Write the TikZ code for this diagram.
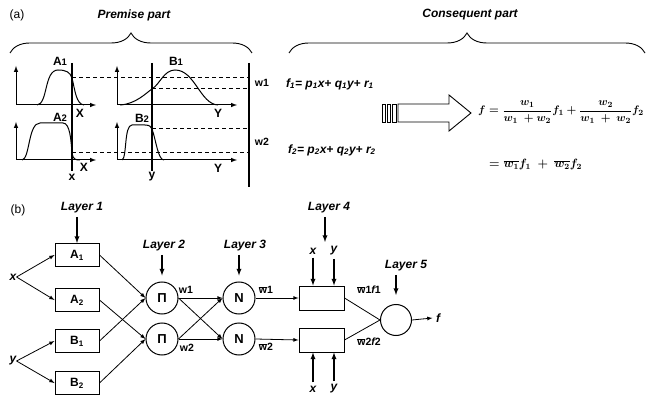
\documentclass[tikz,border=0pt]{standalone}
\usepackage{amsmath}
\usepackage{fontspec}
\setmainfont{Liberation Sans}
\usetikzlibrary{decorations.pathreplacing}

\newcommand{\wb}{$\overline{\mbox{w}}$}

\begin{document}
\begin{tikzpicture}[x=1pt,y=-1pt,>=latex,
	title/.style={font=\bfseries\itshape\fontsize{12}{14}\selectfont},
	mf/.style={font=\bfseries\fontsize{12}{14}\selectfont,inner sep=1pt},
	lbox/.style={draw,line width=1pt,minimum width=44pt,minimum height=23pt,
		inner sep=0pt,font=\bfseries\fontsize{12}{14}\selectfont},
	pnode/.style={draw,circle,line width=1pt,minimum size=32pt,inner sep=0pt,
		font=\bfseries\fontsize{13}{15}\selectfont},
	elab/.style={font=\bfseries\fontsize{10.5}{12}\selectfont,inner sep=1pt},
	eq/.style={anchor=west,inner sep=0pt,font=\fontsize{11}{13}\selectfont\boldmath},
	feqs/.style={anchor=west,inner sep=1pt,font=\bfseries\itshape\fontsize{12}{14}\selectfont},
	conn/.style={->,line width=.8pt},
	down/.style={->,line width=1.3pt}
	]
	\useasboundingbox (0,0) rectangle (648,398);
	
	% (a) premise and consequent part
	\node[font=\fontsize{12}{14}\selectfont] (a) at (17,15) {(a)};
	\node[title] (prem) at (134,15) {Premise part};
	\node[title] (cons) at (470,15) {Consequent part};
	\draw[line width=.9pt,decorate,decoration={brace,amplitude=20pt}]
	(10,53) -- (252,53);
	\draw[line width=.9pt,decorate,decoration={brace,amplitude=20pt}]
	(289,53) -- (645,53);
	
	\draw[line width=1pt,->] (16,105) -- (16,66);
	\draw[line width=1pt,->] (16,105) -- (96,105);
	\draw[line width=1pt,->] (16,160) -- (16,122);
	\draw[line width=1pt,->] (16,160) -- (96,160);
	\draw[line width=1pt,->] (117,105) -- (117,66);
	\draw[line width=1pt,->] (117,105) -- (237,105);
	\draw[line width=1pt,->] (117,160) -- (117,122);
	\draw[line width=1pt,->] (117,160) -- (237,160);
	
	\draw[line width=1pt] (37,105) .. controls (48,104) and (44,70) .. (58,70)
	.. controls (66,70) and (70,72) .. (72,78)
	.. controls (75,90) and (76,104) .. (84,105);
	\draw[line width=1pt] (22,160) .. controls (30,159) and (28,123) .. (40,123)
	-- (63,123) .. controls (70,123) and (71,140) .. (72,153)
	.. controls (73,159) and (75,160) .. (80,160);
	\draw[line width=1pt] (120,105) .. controls (136,104) and (146,93) .. (152,89)
	.. controls (160,84) and (164,70) .. (175,70)
	.. controls (195,70) and (200,104) .. (218,105);
	\draw[line width=1pt] (122,160) .. controls (127,158) and (124,125) .. (132,125)
	-- (145,125) .. controls (150,125) and (151,127) .. (152,129)
	.. controls (156,140) and (158,160) .. (164,160);
	
	\draw[line width=1.1pt] (72,63) -- (72,171);
	\draw[line width=1.1pt] (152,63) -- (152,171);
	\draw[line width=1.4pt] (249,63) -- (249,187);
	\draw[line width=1pt,dash pattern=on 4pt off 3pt] (72,78) -- (249,78);
	\draw[line width=1pt,dash pattern=on 4pt off 3pt] (152,89) -- (249,89);
	\draw[line width=1pt,dash pattern=on 4pt off 3pt] (152,129) -- (249,129);
	\draw[line width=1pt,dash pattern=on 4pt off 3pt] (72,153) -- (249,153);
	
	\node[mf] (mA1) at (60,61) {A{\fontsize{9.5}{10}\selectfont 1}};
	\node[mf] (mA2) at (60,117) {A{\fontsize{9.5}{10}\selectfont 2}};
	\node[mf] (mB1) at (176,61) {B{\fontsize{9.5}{10}\selectfont 1}};
	\node[mf] (mB2) at (142,118) {B{\fontsize{9.5}{10}\selectfont 2}};
	\node[mf] (X1) at (80,113) {X};
	\node[mf] (X2) at (84,167) {X};
	\node[mf] (Y1) at (218,113) {Y};
	\node[mf] (Y2) at (218,168) {Y};
	\node[mf] (xv) at (72,177) {x};
	\node[mf] (yv) at (152,177) {y};
	\node[elab] (w1) at (262,83) {w1};
	\node[elab] (w2) at (262,142) {w2};
	
	\node[feqs] (f1) at (285,84)
	{f\textsubscript{1}= p\textsubscript{1}x+ q\textsubscript{1}y+ r\textsubscript{1}};
	\node[feqs] (f2) at (287,150)
	{f\textsubscript{2}= p\textsubscript{2}x+ q\textsubscript{2}y+ r\textsubscript{2}};
	
	\draw[line width=.9pt] (382,104) rectangle (385,122);
	\draw[line width=.9pt] (387,104) rectangle (390,122);
	\draw[line width=.9pt] (392,104) rectangle (396,122);
	\draw[line width=.9pt] (398,104) -- (449,104) -- (449,95) -- (471,113)
	-- (449,131) -- (449,122) -- (398,122) -- cycle;
	
	\node[eq] (feq) at (478,112) {$\displaystyle f=\frac{w_1}{w_1\ +w_2}f_1+\frac{w_2}{w_1\ +\ w_2}f_2$};
	\node[eq,font=\fontsize{12}{14}\selectfont\boldmath] (fbar) at (489,165) {$=\overline{w_1}f_1\ +\ \overline{w_2}f_2$};
	
	% (b) network
	\node[font=\fontsize{12}{14}\selectfont] (b) at (18,210) {(b)};
	\node[lbox] (A1) at (77,255) {A\textsubscript{1}};
	\node[lbox] (A2) at (77,300) {A\textsubscript{2}};
	\node[lbox] (B1) at (77,341) {B\textsubscript{1}};
	\node[lbox] (B2) at (77,383) {B\textsubscript{2}};
	\node[title,inner sep=0pt] (xin) at (13,277) {x};
	\node[title,inner sep=0pt] (yin) at (13,361) {y};
	
	\node[pnode] (P1) at (162,298) {Π};
	\node[pnode] (P2) at (162,339) {Π};
	\node[pnode] (N1) at (239,298) {N};
	\node[pnode] (N2) at (239,339) {N};
	\node[lbox,minimum width=45pt,minimum height=24pt] (C1) at (321.5,298) {};
	\node[lbox,minimum width=45pt,minimum height=24pt] (C2) at (321.5,340) {};
	\node[pnode,minimum size=31pt] (S) at (396,320) {};
	\node[title] (fout) at (438,318) {f};
	
	\node[title] (L1) at (82,208) {Layer 1};
	\node[title] (L2) at (164,246) {Layer 2};
	\node[title] (L3) at (245,246) {Layer 3};
	\node[title] (L4) at (329,208) {Layer 4};
	\node[title] (L5) at (406,266) {Layer 5};
	\coordinate (l4end) at (325,242);
	
	\node[title] (x4t) at (313,251) {x};
	\node[title] (y4t) at (334,251) {y};
	\node[title] (x4b) at (313,389) {x};
	\node[title] (y4b) at (334,389) {y};
	
	\node[elab] (lw1) at (186,290) {w1};
	\node[elab] (lw2) at (187,348) {w2};
	\node[elab] (lwb1) at (266,290) {\wb1};
	\node[elab] (lwb2) at (266,347) {\wb2};
	\node[elab] (lwf1) at (369,290) {\wb1{\itshape f}1};
	\node[elab] (lwf2) at (369,342) {\wb2{\itshape f}2};
	
	\draw[conn] (xin.east) -- (A1.west);
	\draw[conn] (xin.east) -- (A2.west);
	\draw[conn] (yin.east) -- (B1.west);
	\draw[conn] (yin.east) -- (B2.west);
	\draw[conn] (A1.east) -- (P1.west);
	\draw[conn] (B1.east) -- (P1.west);
	\draw[conn] (A2.east) -- (P2.west);
	\draw[conn] (B2.east) -- (P2.west);
	\draw[conn] (P1.east) -- (N1.west);
	\draw[conn] (P1.east) -- (N2.west);
	\draw[conn] (P2.east) -- (N1.west);
	\draw[conn] (P2.east) -- (N2.west);
	\draw[conn] (N1.east) -- (C1.west);
	\draw[conn] (N2.east) -- (C2.west);
	\draw[line width=.8pt] (C1.east) -- (S.west);
	\draw[line width=.8pt] (C2.east) -- (S.west);
	\draw[conn] (S.east) -- (fout.west);
	
	\draw[down] (A1.north |- L1.south) -- (A1.north);
	\draw[down,shorten >=6pt] (P1.north |- L2.south) -- (P1.north);
	\draw[down,shorten >=6pt] (N1.north |- L3.south) -- (N1.north);
	\draw[down] (l4end |- L4.south) -- (l4end);
	\draw[down,shorten >=9pt] (S.north |- L5.south) -- (S.north);
	\draw[down] (x4t.south) -- (x4t.south |- C1.north);
	\draw[down] (y4t.south) -- (y4t.south |- C1.north);
	\draw[down] (x4b.north) -- (x4b.north |- C2.south);
	\draw[down] (y4b.north) -- (y4b.north |- C2.south);
\end{tikzpicture}
\end{document}
